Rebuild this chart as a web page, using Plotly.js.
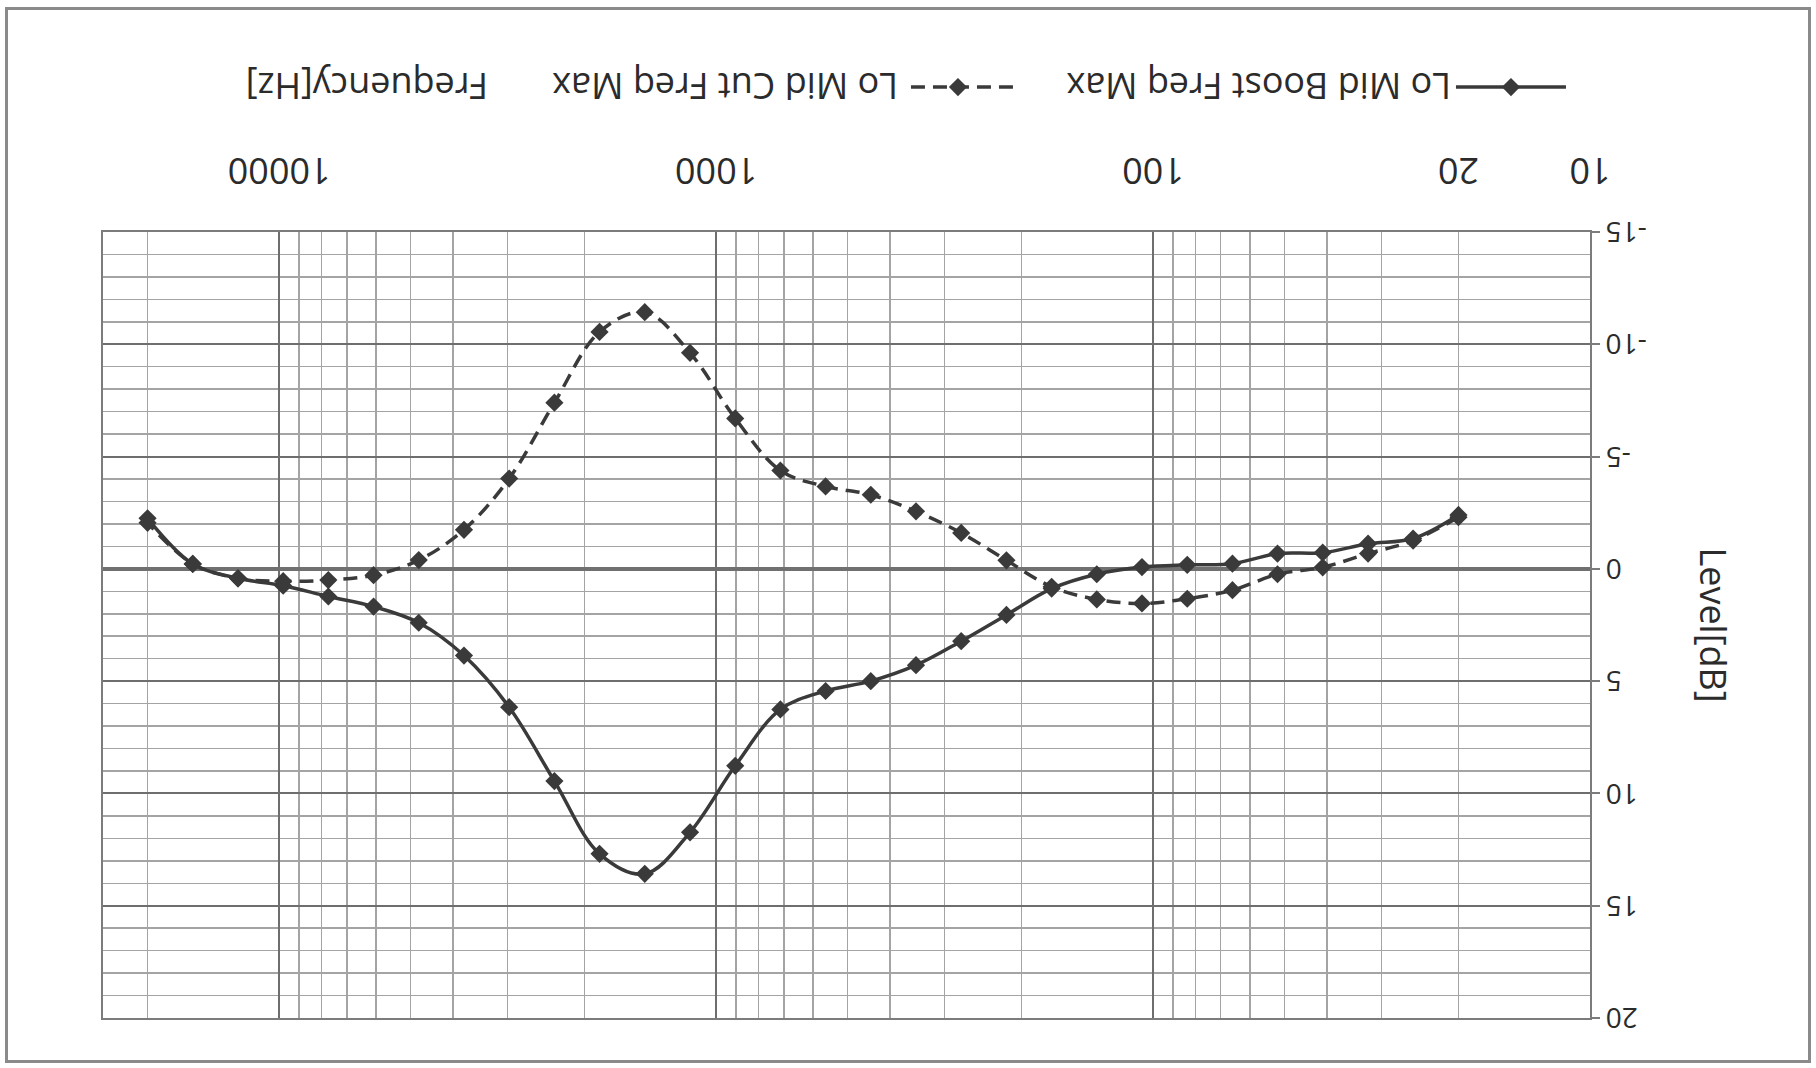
<!DOCTYPE html>
<html>
<head>
<meta charset="utf-8">
<script src="https://cdn.plot.ly/plotly-3.0.1.min.js"></script>
<style>
html, body { margin: 0; padding: 0; background: #ffffff; overflow: hidden; }
#wrap { position: absolute; left: 0; top: 0; width: 1816px; height: 1068px; transform: rotate(180deg); transform-origin: 50% 50%; }
#chart { position: absolute; left: 0; top: 0; width: 1816px; height: 1068px; }
#frame { position: absolute; left: 5px; top: 5px; width: 1806px; height: 1056px; box-sizing: border-box; border: 3px solid #8a8a8a; pointer-events: none; }
</style>
</head>
<body>
<div id="wrap"><div id="chart"></div><div id="frame"></div></div>
<script>
var freqHz = [20, 25.4, 32.2, 40.9, 51.9, 65.8, 83.5, 106, 134.5, 170.6,
              216.5, 274.8, 348.7, 442.5, 561.5, 712.5, 904, 1147, 1456, 1848,
              2344, 2975, 3775, 4791, 6079, 7714, 9787, 12419, 15760, 20000];

// Level [dB] of each series
var loMidBoost = [-2.40, -1.35, -1.12, -0.72, -0.68, -0.23, -0.18, -0.08, 0.24, 0.88,
                  2.05, 3.22, 4.29, 5.00, 5.44, 6.26, 8.77, 11.73, 13.58, 12.69,
                  9.45, 6.16, 3.86, 2.40, 1.68, 1.23, 0.75, 0.42, -0.22, -2.25];
var loMidCut   = [-2.30, -1.26, -0.68, -0.07, 0.24, 0.95, 1.33, 1.54, 1.36, 0.80,
                  -0.38, -1.60, -2.56, -3.30, -3.67, -4.38, -6.70, -9.62, -11.43, -10.55,
                  -7.40, -4.02, -1.74, -0.39, 0.28, 0.50, 0.55, 0.42, -0.22, -2.05];

var seriesNames = ["Lo Mid Boost Freq Max", "Lo Mid Cut Freq Max"];

// Axis ticks
var xTickVals = [10, 20, 100, 1000, 10000];
var xTickLabels = ["10", "20", "100", "1000", "10000"];
var yTickVals = [-15, -10, -5, 0, 5, 10, 15, 20];
var yTickLabels = ["-15", "-10", "-5", "0", "5", "10", "15", "20"];
var xTitle = "Frequency[Hz]";
var yTitle = "Level[dB]";

var FONT = "Open Sans, Liberation Sans, sans-serif";
var INK = "#2b2b2b";
var LINE = "#3a3a3a";
var MAJOR = "#6e6e6e";
var MINOR = "#a4a4a4";

var traces = [
  {
    x: freqHz, y: loMidBoost, name: seriesNames[0], type: "scatter", mode: "lines+markers",
    xaxis: "x", yaxis: "y",
    line: { color: LINE, width: 3.5, shape: "spline", smoothing: 1 },
    marker: { symbol: "diamond", size: 14, color: LINE }
  },
  {
    x: freqHz, y: loMidCut, name: seriesNames[1], type: "scatter", mode: "lines+markers",
    xaxis: "x2", yaxis: "y",
    line: { color: LINE, width: 3.5, dash: "14px,8px", shape: "spline", smoothing: 1 },
    marker: { symbol: "diamond", size: 14, color: LINE }
  }
];

var xRange = [1, 4.403];

var layout = {
  width: 1816, height: 1068,
  margin: { l: 226, r: 103, t: 50, b: 232 },
  paper_bgcolor: "rgba(0,0,0,0)",
  plot_bgcolor: "#ffffff",
  font: { family: FONT, size: 36, color: INK },
  showlegend: true,
  legend: {
    orientation: "h", x: 0.0128, xanchor: "left", y: -0.1845, yanchor: "middle",
    font: { family: FONT, size: 36, color: INK },
    itemwidth: 110,
    entrywidth: 428, entrywidthmode: "pixels",
    bgcolor: "rgba(0,0,0,0)", borderwidth: 0, traceorder: "normal"
  },
  xaxis: {
    type: "log", range: xRange,
    tickmode: "array", tickvals: xTickVals, ticktext: xTickLabels,
    showgrid: false, zeroline: false, ticks: "",
    showline: true, mirror: true, linecolor: "#7c7c7c", linewidth: 2,
    tickfont: { family: FONT, size: 36, color: INK },
    ticklabelstandoff: 29
  },
  xaxis2: {
    type: "log", range: xRange, overlaying: "x", anchor: "y", side: "bottom",
    showticklabels: false, ticks: "", showline: false, zeroline: false,
    showgrid: true, dtick: 1, gridcolor: MAJOR, gridwidth: 2,
    minor: { dtick: "D1", showgrid: true, gridcolor: MINOR, gridwidth: 1.5, ticks: "" }
  },
  yaxis: {
    range: [-15, 20],
    tickmode: "array", tickvals: yTickVals, ticktext: yTickLabels,
    showgrid: true, gridcolor: MAJOR, gridwidth: 2,
    minor: { dtick: 1, showgrid: true, gridcolor: MINOR, gridwidth: 1.5, ticks: "" },
    zeroline: true, zerolinecolor: "#707070", zerolinewidth: 4,
    ticks: "outside", ticklen: 8, tickwidth: 2, tickcolor: "#7c7c7c",
    showline: true, mirror: true, linecolor: "#7c7c7c", linewidth: 2,
    tickfont: { family: FONT, size: 28, color: INK },
    ticklabelstandoff: 0,
    title: { text: yTitle, font: { family: FONT, size: 36, color: INK }, standoff: 42 }
  },
  annotations: [
    {
      text: xTitle, xref: "paper", yref: "paper", x: 0.7397, y: -0.1845,
      xanchor: "left", yanchor: "middle", showarrow: false,
      font: { family: FONT, size: 36, color: INK }
    }
  ]
};

Plotly.newPlot("chart", traces, layout, { staticPlot: true, displayModeBar: false });
</script>
</body>
</html>
